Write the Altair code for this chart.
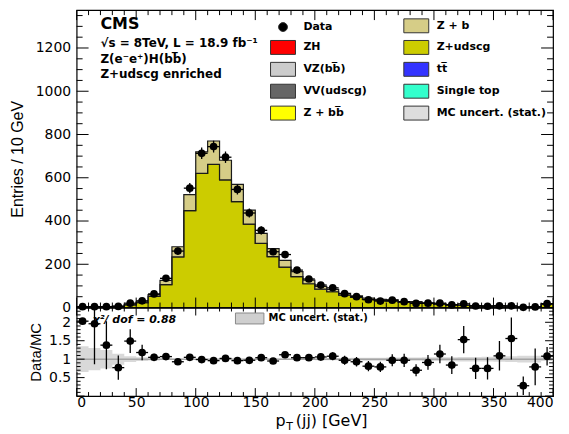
import altair as alt
import pandas as pd

# ---------------- data ----------------
bin_lo = list(range(0, 400, 10))
z_udscg = [1.7, 1.7, 2.6, 5.6, 11.6, 22, 52, 106, 234, 448,
           620, 662, 590, 490, 386, 297, 235, 187, 143, 110,
           85, 73, 57, 47, 38, 33, 30, 24, 23, 19,
           15, 12, 9.5, 8, 7, 6.3, 4.4, 3.1, 3.3, 14.4]
z_b = [0.3, 0.3, 0.4, 0.9, 1.9, 4, 8, 20, 47, 74,
       100, 108, 91, 79, 64, 46, 37, 31, 23, 17,
       13, 11, 9, 7, 6, 5, 5, 4, 4, 3,
       2.5, 2, 1.5, 1.3, 1, 1, 0.7, 0.5, 0.5, 2.3]
data_counts = [4, 4, 4, 5, 20, 31, 63, 135, 261, 552,
               713, 744, 695, 546, 437, 357, 258, 245, 173, 132,
               104, 91, 64, 50, 36, 30, 34, 27, 19, 20,
               20, 12, 17, 7, 6, 8, 8, 1, 3, 18]
data_err = [2, 2, 2, 2.2, 4.5, 5.6, 7.9, 11.6, 16.2, 23.5,
            26.7, 27.3, 26.4, 23.4, 20.9, 18.9, 16.1, 15.7, 13.2, 11.5,
            10.2, 9.5, 8, 7.1, 6, 5.5, 5.8, 5.2, 4.4, 4.5,
            4.5, 3.5, 4.1, 2.6, 2.4, 2.8, 2.8, 1, 1.7, 4.2]
ratio = [2.03, 1.96, 1.38, 0.77, 1.49, 1.18, 1.05, 1.07, 0.93, 1.05,
         0.99, 0.96, 1.02, 0.96, 0.97, 1.04, 0.95, 1.12, 1.04, 1.04,
         1.06, 1.08, 0.97, 0.93, 0.81, 0.79, 0.97, 0.97, 0.70, 0.91,
         1.14, 0.84, 1.53, 0.75, 0.75, 1.09, 1.56, 0.28, 0.79, 1.08]
ratio_err = [0, 1.1, 0.65, 0.33, 0.32, 0.21, 0.1, 0.07, 0.05, 0.045,
             0.037, 0.035, 0.039, 0.041, 0.046, 0.055, 0.06, 0.07, 0.08, 0.09,
             0.10, 0.11, 0.12, 0.13, 0.14, 0.14, 0.16, 0.18, 0.16, 0.2,
             0.25, 0.24, 0.37, 0.29, 0.3, 0.4, 0.57, 0.25, 0.5, 0.25]
mc_rel_err = [0.35, 0.3, 0.25, 0.15, 0.08, 0.05, 0.035, 0.025, 0.018, 0.013,
              0.011, 0.011, 0.012, 0.013, 0.014, 0.016, 0.018, 0.02, 0.022, 0.025,
              0.028, 0.03, 0.033, 0.036, 0.04, 0.04, 0.042, 0.045, 0.045, 0.05,
              0.05, 0.055, 0.06, 0.06, 0.065, 0.07, 0.08, 0.09, 0.09, 0.05]

legend_labels = ["Data", "ZH", "VZ(bb\u0305)", "VV(udscg)", "Z + bb\u0305",
                 "Z + b", "Z+udscg", "tt\u0305", "Single top", "MC uncert. (stat.)"]
legend_colors = ["#000000", "#ff0000", "#cccccc", "#666666", "#ffff00",
                 "#d6cd87", "#cccc00", "#3333ff", "#33ffcc", "#dddddd"]
band_label = ["MC uncert. (stat.)"]
band_color = ["#cfcfcf"]

info_lines = ["CMS", "\u221as = 8TeV, L = 18.9 fb\u207b\u00b9",
              "Z(e\u207be\u207a)H(bb\u0305)", "Z+udscg enriched"]
chi2_text = ["\u03c7\u00b2/ dof = 0.88"]
x_title_parts = ["p", "T", "(jj) [GeV]"]
y_title_main = "Entries / 10 GeV"
y_title_ratio = "Data/MC"

x_major = list(range(0, 401, 50))
x_minor = [v for v in range(0, 401, 10) if v % 50]
y_major_main = list(range(0, 1375, 200))
y_minor_main = [v for v in range(0, 1375, 50) if v % 200]
y_major_ratio = [0, 0.5, 1.0, 1.5, 2.0]
y_minor_ratio = [round(0.1 * i, 1) for i in range(1, 24) if i % 5]

# ---------------- layout ----------------
W, H1, H2 = 479, 299, 89
FONT = "DejaVu Sans"

edges = bin_lo + [400]
def ext(a):
    return list(a) + [a[-1]]

total = [a + b for a, b in zip(z_udscg, z_b)]
area_df = pd.concat([
    pd.DataFrame({"x": edges, "lo": [0] * 41, "hi": ext(z_udscg), "comp": "Z+udscg"}),
    pd.DataFrame({"x": edges, "lo": ext(z_udscg), "hi": ext(total), "comp": "Z + b"}),
])
pts_df = pd.DataFrame({"lo": bin_lo, "hi": [b + 10 for b in bin_lo],
                       "c": [b + 5 for b in bin_lo], "n": data_counts, "e": data_err,
                       "r": ratio, "re": ratio_err})
band_df = pd.DataFrame({"x": edges,
                        "lo": [1 - e for e in ext(mc_rel_err)],
                        "hi": [1 + e for e in ext(mc_rel_err)],
                        "lab": band_label[0]})

xs = alt.Scale(domain=[0, 400], nice=False, zero=False)
ys1 = alt.Scale(domain=[0, 1375], nice=False, zero=False)
ys2 = alt.Scale(domain=[0, 2.4], nice=False, zero=False)

y_axis_main = alt.Axis(values=y_major_main, title=y_title_main, titleX=-51,
                       titleFontSize=16, format="d")
y_axis_ratio = alt.Axis(values=[0.5, 1, 1.5, 2], title=y_title_ratio, titleX=-33,
                        titleFontSize=15, format="~g")
x_axis_ratio = alt.Axis(values=x_major, title=None, labelPadding=0)

rect_path = "M-1.79,-1L1.79,-1L1.79,1L-1.79,1Z"
circ_path = "M-0.64,0A0.64,0.64,0,1,1,0.64,0A0.64,0.64,0,1,1,-0.64,0Z"

main_legend = alt.Legend(
    title=None, orient="none", legendX=200, legendY=8, columns=2, columnPadding=34,
    rowPadding=3, padding=0, labelFont=FONT, labelFontWeight="bold", labelFontSize=11,
    labelColor="black", labelOffset=13, labelLimit=0,
    symbolType={"expr": "datum.value == 'Data' ? '" + circ_path + "' : '" + rect_path + "'"},
    symbolSize=196, symbolStrokeWidth=1, symbolStrokeColor="#333333", symbolOpacity=1,
)


def ticks(xsc, ysc, xaxis, yaxis, h, xmaj, xmin, ymaj, ymin, lx, ly, top=True):
    out = []
    for vals, L in ((xmaj, lx[0]), (xmin, lx[1])):
        base = alt.Chart(pd.DataFrame({"v": vals})).mark_rule(color="black", strokeWidth=1)
        xe = alt.X("v:Q", scale=xsc, axis=xaxis)
        out.append(base.encode(x=xe, y=alt.value(h), y2=alt.value(h - L)))
        if top:
            out.append(base.encode(x=xe, y=alt.value(0), y2=alt.value(L)))
    for vals, L in ((ymaj, ly[0]), (ymin, ly[1])):
        base = alt.Chart(pd.DataFrame({"v": vals})).mark_rule(color="black", strokeWidth=1)
        ye = alt.Y("v:Q", scale=ysc, axis=yaxis)
        out.append(base.encode(y=ye, x=alt.value(0), x2=alt.value(L)))
        out.append(base.encode(y=ye, x=alt.value(W), x2=alt.value(W - L)))
    return out

# ---------------- main panel ----------------
areas = alt.Chart(area_df).mark_area(
    interpolate="step-after", stroke="#1a1a1a", strokeWidth=1.2, opacity=1
).encode(
    x=alt.X("x:Q", scale=xs, axis=None),
    y=alt.Y("hi:Q", scale=ys1, stack=None, axis=y_axis_main),
    y2="lo:Q",
    color=alt.Color("comp:N", scale=alt.Scale(domain=legend_labels, range=legend_colors),
                    legend=main_legend),
)
pbase = alt.Chart(pts_df)
m_err = pbase.mark_rule(color="black", strokeWidth=1.3).encode(
    x=alt.X("c:Q", scale=xs, axis=None),
    y=alt.Y("ylo:Q", scale=ys1, axis=y_axis_main), y2="yhi:Q",
).transform_calculate(ylo="datum.n - datum.e", yhi="datum.n + datum.e")
m_herr = pbase.mark_rule(color="black", strokeWidth=1.3).encode(
    x=alt.X("lo:Q", scale=xs, axis=None), x2="hi:Q",
    y=alt.Y("n:Q", scale=ys1, axis=y_axis_main),
)
m_pts = pbase.mark_circle(size=60, color="black", opacity=1).encode(
    x=alt.X("c:Q", scale=xs, axis=None),
    y=alt.Y("n:Q", scale=ys1, axis=y_axis_main),
)

def label(text, x, y, size, weight="bold", style="normal", scale_y=ys1, axis_y=y_axis_main,
          xaxis=None):
    return alt.Chart(pd.DataFrame({"t": [text]})).mark_text(
        align="left", baseline="middle", font=FONT, fontSize=size, fontWeight=weight,
        fontStyle=style, color="black"
    ).encode(
        x=alt.X(datum=x, scale=xs, axis=xaxis),
        y=alt.Y(datum=y, scale=scale_y, axis=axis_y),
        text="t:N",
    )

texts = [
    label(info_lines[0], 20, 1311, 16),
    label(info_lines[1], 20, 1222, 12),
    label(info_lines[2], 20, 1150, 12),
    label(info_lines[3], 20, 1078, 12),
]

main = alt.layer(
    areas, m_err, m_herr, m_pts, *texts,
    *ticks(xs, ys1, None, y_axis_main, H1, x_major, x_minor, y_major_main, y_minor_main,
           (10, 5), (12, 6)),
).properties(width=W, height=H1)

# ---------------- ratio panel ----------------
band = alt.Chart(band_df).mark_area(interpolate="step-after", opacity=0.8).encode(
    x=alt.X("x:Q", scale=xs, axis=x_axis_ratio),
    y=alt.Y("hi:Q", scale=ys2, axis=y_axis_ratio), y2="lo:Q",
    color=alt.Color("lab:N", scale=alt.Scale(domain=band_label, range=band_color),
                    legend=alt.Legend(
                        title=None, orient="none", legendX=168, legendY=5, padding=0,
                        labelFont=FONT, labelFontWeight="bold", labelFontSize=10,
                        labelColor="black", labelOffset=13, labelLimit=0,
                        symbolType="M-2.6,-1L2.6,-1L2.6,1L-2.6,1Z", symbolSize=121,
                        symbolStrokeColor="#888888", symbolStrokeWidth=1, symbolOpacity=1)),
)
one_line = alt.Chart(pd.DataFrame({"v": [1.0]})).mark_rule(color="#888888", strokeWidth=1).encode(
    y=alt.Y("v:Q", scale=ys2, axis=y_axis_ratio))
r_err = pbase.mark_rule(color="black", strokeWidth=1.3, clip=True).encode(
    x=alt.X("c:Q", scale=xs, axis=x_axis_ratio),
    y=alt.Y("ylo:Q", scale=ys2, axis=y_axis_ratio), y2="yhi:Q",
).transform_calculate(ylo="datum.r - datum.re", yhi="datum.r + datum.re")
r_herr = pbase.mark_rule(color="black", strokeWidth=1.3).encode(
    x=alt.X("lo:Q", scale=xs, axis=x_axis_ratio), x2="hi:Q",
    y=alt.Y("r:Q", scale=ys2, axis=y_axis_ratio),
)
r_pts = pbase.mark_circle(size=60, color="black", opacity=1).encode(
    x=alt.X("c:Q", scale=xs, axis=x_axis_ratio),
    y=alt.Y("r:Q", scale=ys2, axis=y_axis_ratio),
)
chi2 = label(chi2_text[0], 13.5, 2.07, 11, style="italic", scale_y=ys2, axis_y=y_axis_ratio,
             xaxis=x_axis_ratio)

def xtitle(text, x, ypix, size):
    return alt.Chart(pd.DataFrame({"t": [text]})).mark_text(
        align="left", baseline="alphabetic", font=FONT, fontSize=size, color="black"
    ).encode(x=alt.X(datum=x, scale=xs, axis=x_axis_ratio), y=alt.value(ypix), text="t:N")

xt = [xtitle(x_title_parts[0], 167, 119, 16),
      xtitle(x_title_parts[1], 176, 123, 11),
      xtitle(x_title_parts[2], 184, 119, 16)]

ratio_panel = alt.layer(
    band, one_line, r_err, r_herr, r_pts, chi2, *xt,
    *ticks(xs, ys2, x_axis_ratio, y_axis_ratio, H2, x_major, x_minor, y_major_ratio,
           y_minor_ratio, (8, 4), (8, 4)),
).properties(width=W, height=H2)

chart = alt.vconcat(main, ratio_panel, spacing=0, bounds="flush").resolve_scale(
    color="independent"
).resolve_legend(color="independent").properties(
    padding={"left": 1, "top": -1, "right": 5, "bottom": 0}
).configure_view(stroke="black", strokeWidth=1.2).configure_axis(
    labelFont=FONT, labelFontSize=14, labelColor="black", ticks=False, tickSize=0,
    domain=False, grid=False, labelPadding=6, titleFont="Liberation Sans",
    titleFontWeight="normal", titleColor="black"
)

chart.save("out.html", embed_options={"renderer": "svg", "actions": False})
